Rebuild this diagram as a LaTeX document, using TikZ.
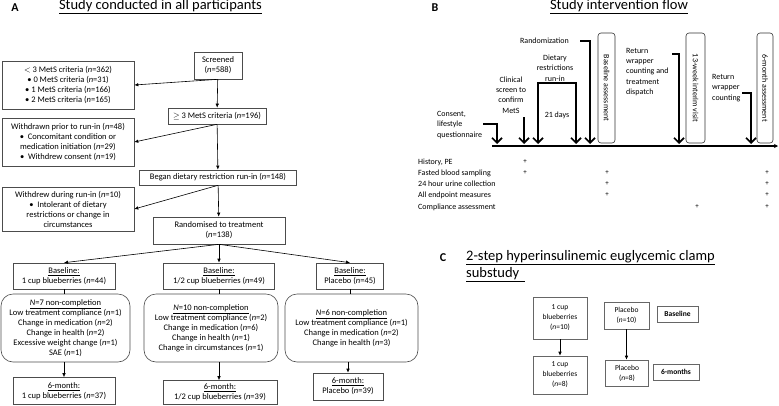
\documentclass[tikz,border=0pt]{standalone}
\usepackage{fontspec}
\setmainfont{Carlito}
\usetikzlibrary{arrows.meta}
\def\nval#1{(\textit{n}=#1)}
\tikzset{
	box/.style={draw=black!70, line width=0.6pt, align=center, inner sep=0pt, font=\fontsize{8.5}{10}\selectfont},
	rbox/.style={box, rounded corners=12pt},
	arr/.style={-{Latex[length=4pt,width=3.5pt]}, line width=0.6pt},
	evt/.style={-{Straight Barb[length=5pt,width=10pt]}, line width=1.7pt},
	phase/.style={draw=black!80, line width=0.6pt, rounded corners=3pt, rotate=-90, minimum width=110pt, inner sep=0pt, font=\fontsize{8}{9}\selectfont},
	lbl/.style={align=center, inner sep=0pt, font=\fontsize{8}{10.3}\selectfont},
	lbll/.style={lbl, align=left},
	row/.style={anchor=west, inner sep=0pt, font=\fontsize{8}{9}\selectfont},
	tick/.style={inner sep=0pt, font=\fontsize{7}{8}\selectfont},
	cbox/.style={draw=black!60, line width=0.6pt, align=center, inner sep=0pt, font=\fontsize{7.5}{10}\selectfont},
	title/.style={font=\fontsize{14.5}{17}\selectfont, inner sep=0pt},
	panel/.style={font=\fontsize{12}{14}\selectfont\bfseries, inner sep=0pt},
}
\begin{document}
\begin{tikzpicture}[x=1pt, y=-1pt]
			%%%%% START %%%%%
			\useasboundingbox (0,0) rectangle (779,405);
			
			%%%%% A: all participants %%%%%
			\node[panel] (pa) at (15,8) {A};
			\node[title] (ta) at (160.5,7) {\underline{Study conducted in all participants}};
			
			\node[box, minimum width=48pt, minimum height=27pt] (scr) at (218,65.5) {Screened\\\nval{588}};
			\node[box, minimum width=132pt, minimum height=48pt] (lt3) at (68,85) {$<$ 3 MetS criteria \nval{362}\\\textbullet\ 0 MetS criteria \nval{31}\\\textbullet\ 1 MetS criteria \nval{166}\\\textbullet\ 2 MetS criteria \nval{165}};
			\node[box, minimum width=98pt, minimum height=16pt] (ge3) at (217,116) {$\geq$ 3 MetS criteria \nval{196}};
			\node[box, minimum width=132pt, minimum height=48pt] (wdr) at (68,142) {Withdrawn prior to run-in \nval{48}\\\textbullet\ \ Concomitant condition or\\medication initiation \nval{29}\\\textbullet\ \ Withdrew consent \nval{19}};
			\node[box, minimum width=157pt, minimum height=15pt] (began) at (218,177.5) {Began dietary restriction run-in \nval{148}};
			\node[box, minimum width=132pt, minimum height=44pt] (wrun) at (68,209) {Withdrew during run-in \nval{10}\\\textbullet\ \ Intolerant of dietary\\restrictions or change in\\circumstances};
			\node[box, minimum width=132pt, minimum height=27pt] (rand) at (219,230.5) {Randomised to treatment\\\nval{138}};
			
			\node[box, minimum width=102pt, minimum height=26pt] (b1) at (64,276) {\underline{Baseline:}\\1 cup blueberries \nval{44}};
			\node[box, minimum width=111pt, minimum height=26pt] (b2) at (219,276) {\underline{Baseline:}\\1/2 cup blueberries \nval{49}};
			\node[box, minimum width=67pt, minimum height=26pt] (b3) at (350,276) {\underline{Baseline:}\\Placebo \nval{45}};
			
			\node[rbox, minimum width=129pt, minimum height=68pt] (n1) at (65.5,328) {\underline{\textit{N}=7 non-completion}\\Low treatment compliance \nval{1}\\Change in medication \nval{2}\\Change in health \nval{2}\\Excessive weight change \nval{1}\\SAE \nval{1}};
			\node[rbox, minimum width=134pt, minimum height=68pt] (n2) at (211,328) {\underline{\textit{N}=10 non-completion}\\Low treatment compliance \nval{2}\\Change in medication \nval{6}\\Change in health \nval{1}\\Change in circumstances \nval{1}};
			\node[rbox, minimum width=133pt, minimum height=68pt] (n3) at (351.5,328) {\underline{\textit{N}=6 non-completion}\\Low treatment compliance \nval{1}\\Change in medication \nval{2}\\Change in health \nval{3}};
			
			\node[box, minimum width=102pt, minimum height=27pt] (s1) at (64,391) {\underline{6-month:}\\1 cup blueberries \nval{37}};
			\node[box, minimum width=114pt, minimum height=24pt] (s2) at (220,392.5) {\underline{6-month:}\\1/2 cup blueberries \nval{39}};
			\node[box, minimum width=70pt, minimum height=27pt] (s3) at (348,386.5) {\underline{6-month:}\\Placebo \nval{39}};
			
			\draw[arr] (scr) -- (ge3);
			\draw[arr] (scr.south) -- (lt3.east);
			\draw[arr] (ge3) -- (began);
			\draw[arr] (ge3.south) -- (wdr.east);
			\draw[arr] (began) -- (rand);
			\draw[arr] (began.south) -- (wrun.east);
			\draw[arr] (rand.south) -- (b1.north);
			\draw[arr] (rand.south) -- (b2.north);
			\draw[arr] (rand.south) -- (b3.north);
			\draw[line width=0.6pt] (b1.south) -- (b1.south |- n1.north);
			\draw[line width=0.6pt] (b2.south) -- (b2.south |- n2.north);
			\draw[line width=0.6pt] (b3.south) -- (b3.south |- n3.north);
			\draw[arr] (s1.north |- n1.south) -- (s1.north);
			\draw[arr] (b2.south |- n2.south) -- (b2.south |- s2.north);
			\draw[arr] (s3.north |- n3.south) -- (s3.north);
			
			%%%%% B: intervention flow %%%%%
			\node[panel] (pb) at (435,8) {B};
			\node[title] (tb) at (619,7) {\underline{Study intervention flow}};
			
			\coordinate (ax0) at (492,146);
			\coordinate (ax1) at (778,146);
			\draw[line width=2pt, -{Stealth[length=4pt,width=4pt]}] (ax0) -- (ax1);
			
			\node[lbll, anchor=west] (consent) at (437,125) {Consent,\\lifestyle\\questionnaire};
			\node[lbl] (screen) at (511,95) {Clinical\\screen to\\confirm\\MetS};
			\node[lbl] (diet) at (555,68) {Dietary\\restrictions\\run-in};
			\node[lbl] (days) at (557,115) {21 days};
			\node[lbl, anchor=east] (randz) at (569,41) {Randomization};
			\node[lbll, anchor=west] (ret1) at (626,72) {Return\\wrapper\\counting and\\treatment\\dispatch};
			\node[lbll, anchor=west] (ret2) at (712,88) {Return\\wrapper\\counting};
			
			\node[phase, minimum height=17pt] (base) at (606.5,88) {Baseline assessment};
			\node[phase, minimum height=19pt] (wk13) at (695.5,88) {13-week interim visit};
			\node[phase, minimum height=16pt] (mo6) at (765,88) {6-month assessment};
			
			\coordinate (e1) at (497,144);
			\coordinate (e2) at (524,144);
			\coordinate (e3) at (538,144);
			\coordinate (e4) at (576,144);
			\coordinate (e5) at (590,144);
			\coordinate (e6) at (679,144);
			\coordinate (e7) at (751,144);
			\coordinate (k1) at (483,124);
			\coordinate (k2) at (524,117);
			\coordinate (k3) at (557,83);
			\coordinate (k5) at (580,41);
			\coordinate (k6) at (672,54);
			\coordinate (k7) at (742,93);
			
			\draw[evt] (k1) -| (e1);
			\draw[evt] (k2) -- (e2);
			\draw[evt, {Straight Barb[length=5pt,width=10pt]}-{Straight Barb[length=5pt,width=10pt]}] (e3) |- (k3) -| (e4);
			\draw[evt] (k5) -| (e5);
			\draw[evt] (k6) -| (e6);
			\draw[evt] (k7) -| (e7);
			
			\node[row] (r1) at (418,162) {History, PE};
			\node[row] (r2) at (418,173) {Fasted blood sampling};
			\node[row] (r3) at (418,184) {24 hour urine collection};
			\node[row] (r4) at (418,195) {All endpoint measures};
			\node[row] (r5) at (418,207) {Compliance assessment};
			\foreach \px/\py in {525/162, 525/173, 607/173, 607/184, 607/195, 697/207, 767/173, 767/184, 767/195, 767/207}
				\node[tick] at (\px,\py) {+};
			
			%%%%% C: clamp substudy %%%%%
			\node[panel] (pc) at (443,258) {C};
			\node[title, anchor=north west, align=left] (tc) at (466,250) {\underline{2-step hyperinsulinemic euglycemic clamp}\\\underline{substudy\ \,}};
			
			\node[cbox, minimum width=54pt, minimum height=42pt] (cb1) at (560,318) {1 cup\\blueberries\\\nval{10}};
			\node[cbox, minimum width=45pt, minimum height=27pt] (cp1) at (626.5,315.5) {Placebo\\\nval{10}};
			\node[cbox, minimum width=41pt, minimum height=16pt] (cbl) at (677.5,314) {\textbf{Baseline}};
			\node[cbox, minimum width=54pt, minimum height=38pt] (cb2) at (560,375) {1 cup\\blueberries\\\nval{8}};
			\node[cbox, minimum width=43pt, minimum height=26pt] (cp2) at (627,373) {Placebo\\\nval{8}};
			\node[cbox, minimum width=46pt, minimum height=16pt] (c6m) at (676,372) {\textbf{6-months}};
			
			\draw[arr] (cb1) -- (cb2);
			\draw[arr] (cp1) -- (cp1 |- cp2.north);
			
			%%%%% END %%%%%
\end{tikzpicture}
\end{document}
